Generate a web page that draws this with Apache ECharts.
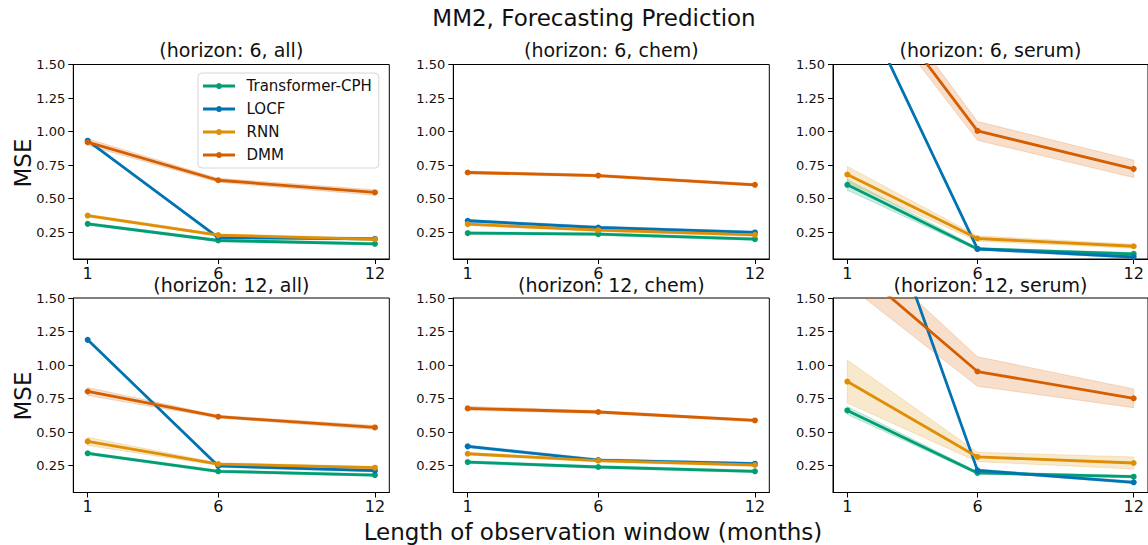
<!DOCTYPE html>
<html>
<head>
<meta charset="utf-8">
<script src="https://cdn.jsdelivr.net/npm/echarts@6/dist/echarts.min.js"></script>
<style>
  html, body { margin: 0; padding: 0; background: #fff; }
  #chart { width: 1148px; height: 545px; }
</style>
</head>
<body>
<div id="chart"></div>
<script>
// Observation window lengths (months) on the x axis
const windows = [1, 6, 12];
const models = ['Transformer-CPH', 'LOCF', 'RNN', 'DMM'];
const modelColors = ['#029e73', '#0173b2', '#de8f05', '#d55e00'];
const yTicks = [0.25, 0.5, 0.75, 1.0, 1.25, 1.5];

const panelTitles = [
  '(horizon: 6, all)', '(horizon: 6, chem)', '(horizon: 6, serum)',
  '(horizon: 12, all)', '(horizon: 12, chem)', '(horizon: 12, serum)'
];

// Mean MSE, one row per model (Transformer-CPH, LOCF, RNN, DMM)
const h6All = [
  [0.312, 0.188, 0.163],
  [0.932, 0.210, 0.200],
  [0.374, 0.228, 0.197],
  [0.921, 0.637, 0.546]
];
const h6Chem = [
  [0.243, 0.235, 0.198],
  [0.335, 0.285, 0.248],
  [0.310, 0.265, 0.230],
  [0.695, 0.672, 0.603]
];
const h6Serum = [
  [0.603, 0.125, 0.088],
  [2.170, 0.125, 0.065],
  [0.680, 0.203, 0.145],
  [2.290, 1.005, 0.722]
];
const h12All = [
  [0.342, 0.208, 0.180],
  [1.188, 0.248, 0.213],
  [0.431, 0.262, 0.235],
  [0.803, 0.615, 0.535]
];
const h12Chem = [
  [0.277, 0.240, 0.208],
  [0.394, 0.292, 0.265],
  [0.339, 0.287, 0.255],
  [0.677, 0.650, 0.587]
];
const h12Serum = [
  [0.662, 0.196, 0.168],
  [2.950, 0.215, 0.126],
  [0.877, 0.315, 0.270],
  [1.780, 0.952, 0.752]
];

// Half-width of the shaded spread around each mean
const h6AllSpread = [
  [0.010, 0.010, 0.010],
  [0.000, 0.010, 0.010],
  [0.010, 0.010, 0.010],
  [0.025, 0.015, 0.020]
];
const h6ChemSpread = [
  [0.010, 0.010, 0.010],
  [0.010, 0.010, 0.010],
  [0.010, 0.010, 0.010],
  [0.010, 0.010, 0.010]
];
const h6SerumSpread = [
  [0.040, 0.010, 0.010],
  [0.000, 0.010, 0.010],
  [0.060, 0.020, 0.015],
  [0.100, 0.070, 0.065]
];
const h12AllSpread = [
  [0.010, 0.010, 0.010],
  [0.000, 0.010, 0.010],
  [0.030, 0.010, 0.010],
  [0.030, 0.010, 0.015]
];
const h12ChemSpread = [
  [0.010, 0.010, 0.010],
  [0.010, 0.010, 0.010],
  [0.010, 0.010, 0.010],
  [0.015, 0.010, 0.010]
];
const h12SerumSpread = [
  [0.030, 0.010, 0.010],
  [0.000, 0.010, 0.010],
  [0.160, 0.035, 0.045],
  [0.180, 0.110, 0.070]
];

const panelMeans = [h6All, h6Chem, h6Serum, h12All, h12Chem, h12Serum];
const panelSpreads = [h6AllSpread, h6ChemSpread, h6SerumSpread, h12AllSpread, h12ChemSpread, h12SerumSpread];

const FONT = 'DejaVu Sans';
const colLefts = [73.3, 453.3, 833];
const colWidths = [316, 316, 315];
const rowTops = [64.5, 298];
const rowHeight = 194.5;

function hexToRgba(hex, a) {
  const n = parseInt(hex.slice(1), 16);
  return 'rgba(' + ((n >> 16) & 255) + ',' + ((n >> 8) & 255) + ',' + (n & 255) + ',' + a + ')';
}

// Legend handle: a short thick line with a dot in the middle
const legendIcon = 'path://M0,1.6 L13.35,1.6 A3,3 0 0 1 18.65,1.6 L32,1.6 L32,4.4 L18.65,4.4 A3,3 0 0 1 13.35,4.4 L0,4.4 Z';

const grids = [], xAxes = [], yAxes = [], series = [], graphics = [];

for (let p = 0; p < 6; p++) {
  const row = Math.floor(p / 3), col = p % 3;
  grids.push({
    left: colLefts[col], top: rowTops[row], width: colWidths[col], height: rowHeight,
    show: true, borderColor: '#000', borderWidth: 1, backgroundColor: 'transparent'
  });
  xAxes.push({
    type: 'value', gridIndex: p, min: 0.45, max: 12.55,
    axisLine: { show: true, onZero: false, lineStyle: { color: '#000', width: 1 } },
    axisTick: { show: true, customValues: windows, length: 5, lineStyle: { color: '#000' } },
    axisLabel: { customValues: windows, fontSize: 16, fontFamily: FONT, color: '#111', margin: 6 },
    splitLine: { show: false }
  });
  yAxes.push({
    type: 'value', gridIndex: p, min: 0.05, max: 1.5,
    axisLine: { show: true, onZero: false, lineStyle: { color: '#000', width: 1 } },
    axisTick: { show: true, customValues: yTicks, length: 5, lineStyle: { color: '#000' } },
    axisLabel: {
      customValues: yTicks, fontSize: 13, fontFamily: FONT, color: '#111', margin: 8,
      formatter: v => Number(v).toFixed(2)
    },
    splitLine: { show: false }
  });

  const means = panelMeans[p], spreads = panelSpreads[p];
  for (let m = 0; m < models.length; m++) {
    const mean = means[m], sp = spreads[m], color = modelColors[m];
    // shaded spread band
    series.push({
      type: 'custom', xAxisIndex: p, yAxisIndex: p, clip: true, silent: true,
      data: windows.map((w, i) => [w, mean[i] - sp[i], mean[i] + sp[i]]),
      encode: { x: 0, y: [1, 2] },
      renderItem: function (params, api) {
        if (params.dataIndex !== 0) return null;
        const upper = windows.map((w, i) => api.coord([w, mean[i] + sp[i]]));
        const lower = windows.map((w, i) => api.coord([w, mean[i] - sp[i]])).reverse();
        return {
          type: 'polygon',
          shape: { points: upper.concat(lower) },
          style: { fill: hexToRgba(color, 0.2), stroke: hexToRgba(color, 0.2), lineWidth: 1 }
        };
      },
      z: 2
    });
    // mean line with markers
    series.push({
      type: 'line', name: models[m], xAxisIndex: p, yAxisIndex: p,
      data: windows.map((w, i) => [w, mean[i]]),
      clip: true, symbol: 'circle', symbolSize: 6, showSymbol: true,
      lineStyle: { color: color, width: 2.8 },
      itemStyle: { color: color },
      emphasis: { disabled: true },
      z: 3
    });
  }

  graphics.push({
    type: 'text',
    x: colLefts[col] + colWidths[col] / 2,
    y: row === 0 ? 50 : 285,
    style: { text: panelTitles[p], fontSize: 19, fontFamily: FONT, fill: '#111', align: 'center', verticalAlign: 'middle' },
    z: 10
  });
}

graphics.push({
  type: 'text', x: 594, y: 18,
  style: { text: 'MM2, Forecasting Prediction', fontSize: 23, fontFamily: FONT, fill: '#111', align: 'center', verticalAlign: 'middle' }
});
graphics.push({
  type: 'text', x: 593, y: 532,
  style: { text: 'Length of observation window (months)', fontSize: 23, fontFamily: FONT, fill: '#111', align: 'center', verticalAlign: 'middle' }
});
[163, 396].forEach(cy => {
  graphics.push({
    type: 'text', x: 22.5, y: cy, rotation: Math.PI / 2,
    style: { text: 'MSE', fontSize: 23, fontFamily: FONT, fill: '#111', align: 'center', verticalAlign: 'middle' }
  });
});

const chart = echarts.init(document.getElementById('chart'), null, { renderer: 'svg' });
chart.setOption({
  animation: false,
  backgroundColor: '#fff',
  grid: grids,
  xAxis: xAxes,
  yAxis: yAxes,
  legend: {
    data: models.map((name, i) => ({ name: name, icon: legendIcon, itemStyle: { color: modelColors[i] } })),
    orient: 'vertical',
    left: 198, top: 73,
    itemWidth: 33, itemHeight: 6, itemGap: 7,
    padding: [5, 7, 5, 5],
    backgroundColor: 'rgba(255,255,255,0.85)',
    borderColor: '#d6d6d6', borderWidth: 1, borderRadius: 4,
    textStyle: { fontSize: 15, fontFamily: FONT, color: '#111', lineHeight: 16, padding: [0, 0, 0, 6] },
    selectedMode: false,
    z: 20
  },
  graphic: graphics,
  series: series
});
</script>
</body>
</html>
